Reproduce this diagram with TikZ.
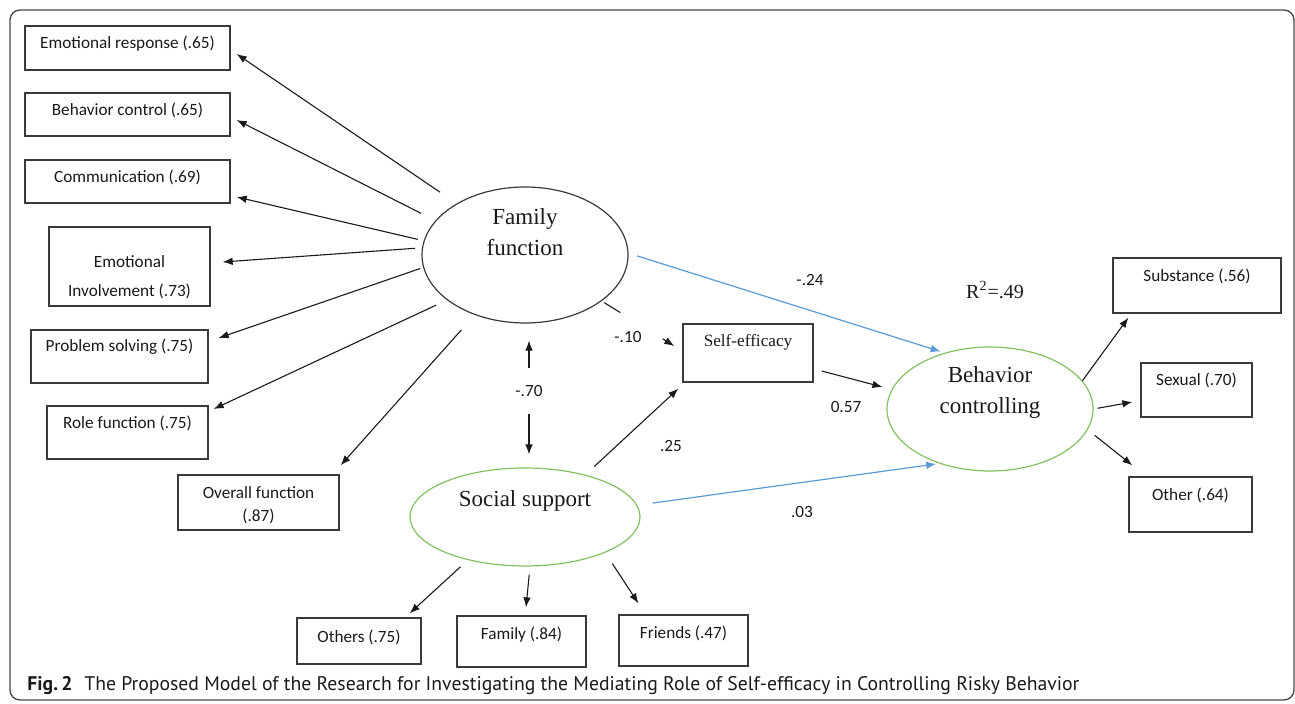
\documentclass[tikz,border=0pt]{standalone}
\usepackage{fontspec}
\usetikzlibrary{arrows.meta,calc,shapes.geometric}
\newfontfamily\calfont{Carlito}
\newfontfamily\tmsfont{Liberation Serif}
\newfontfamily\capfont{PT Sans}
\definecolor{boxc}{HTML}{3A3A3A}
\definecolor{txt}{HTML}{1A1A1A}
\definecolor{grn}{HTML}{84C062}
\definecolor{blu}{HTML}{5B9BD5}
\definecolor{frm}{HTML}{4A4A4A}
\begin{document}
\begin{tikzpicture}[x=0.5pt,y=-0.5pt,
 box/.style={draw=boxc, line width=0.65pt, rectangle, inner sep=0pt},
 lab/.style={font=\calfont\fontsize{8.6}{10.3}\selectfont, text=txt, inner sep=0pt},
 slab/.style={font=\tmsfont\fontsize{8.6}{10.3}\selectfont, text=txt, inner sep=0pt},
 elab/.style={font=\tmsfont\fontsize{11.5}{15.5}\selectfont, text=txt, inner sep=0pt, align=center},
 ell/.style={ellipse, inner sep=0pt, line width=0.6pt},
 arr/.style={draw=txt, line width=0.55pt, -{Latex[length=5pt,width=3.8pt]}},
 darr/.style={draw=txt, line width=0.55pt, {Latex[length=5pt,width=3.8pt]}-{Latex[length=5pt,width=3.8pt]}},
 plain/.style={draw=txt, line width=0.55pt},
 barr/.style={draw=blu, line width=0.6pt, -{Latex[length=5pt,width=3.8pt]}},
 coef/.style={font=\calfont\fontsize{8.6}{10}\selectfont, text=txt, inner sep=0pt},
]
\useasboundingbox (0,0) rectangle (1295,704);
\draw[frm, line width=0.7pt, rounded corners=5pt] (10,10) rectangle (1294,700);

% indicator boxes of family function
\node[box, minimum width=102.5pt, minimum height=22pt, label={[lab,yshift=2pt]center:Emotional response (.65)}] (er) at (127.5,48) {};
\node[box, minimum width=102.5pt, minimum height=21.5pt, label={[lab,yshift=2.25pt]center:Behavior control (.65)}] (bctl) at (127.5,114.5) {};
\node[box, minimum width=102.5pt, minimum height=21.5pt, label={[lab,yshift=2.25pt]center:Communication (.69)}] (com) at (127.5,181.5) {};
\node[box, minimum width=80.5pt, minimum height=39.5pt, label={[lab,align=center,font=\calfont\fontsize{8.6}{14.5}\selectfont,yshift=-5.5pt]center:Emotional\\Involvement (.73)}] (ei) at (129.5,266.5) {};
\node[box, minimum width=88.5pt, minimum height=26.5pt, label={[lab,yshift=4.75pt]center:Problem solving (.75)}] (ps) at (119.5,356.5) {};
\node[box, minimum width=80.5pt, minimum height=26.5pt, label={[lab,yshift=4.75pt]center:Role function (.75)}] (rf) at (127.5,432.5) {};
\node[box, minimum width=80.5pt, minimum height=27.5pt, label={[lab,align=center,font=\calfont\fontsize{8.6}{11.5}\selectfont,yshift=-1.5pt]center:Overall function\\(.87)}] (of) at (258.5,502.5) {};

% mediator and outcome indicators
\node[box, minimum width=65pt, minimum height=29pt, label={[slab,yshift=5.5pt]center:Self-efficacy}] (se) at (748,353) {};
\node[box, minimum width=84pt, minimum height=27.5pt, label={[lab,yshift=4.75pt]center:Substance (.56)}] (sub) at (1197,285.5) {};
\node[box, minimum width=55.5pt, minimum height=27pt, label={[lab,yshift=5pt]center:Sexual (.70)}] (sex) at (1196.5,390) {};
\node[box, minimum width=61.5pt, minimum height=27.5pt, label={[lab,yshift=4.75pt]center:Other (.64)}] (oth) at (1190.5,504.5) {};

% social support indicators
\node[box, minimum width=62pt, minimum height=23pt, label={[lab,yshift=2pt]center:Others (.75)}] (others) at (359,641) {};
\node[box, minimum width=64.5pt, minimum height=25.5pt, label={[lab,yshift=3.25pt]center:Family (.84)}] (fam) at (521.5,641.5) {};
\node[box, minimum width=64.5pt, minimum height=25.5pt, label={[lab,yshift=3.75pt]center:Friends (.47)}] (fr) at (683.5,640.5) {};

% latent variables
\node[ell, draw=boxc, minimum width=103pt, minimum height=68pt, label={[elab,yshift=11.25pt]center:Family\\function}] (ff) at (525,255) {};
\node[ell, draw=grn, minimum width=115pt, minimum height=49pt, label={[elab,yshift=8pt]center:Social support}] (ss) at (525,517) {};
\node[ell, draw=grn, minimum width=103pt, minimum height=62pt, label={[elab,yshift=8.25pt]center:Behavior\\controlling}] (bhc) at (990,409) {};

% family function loadings
\draw[arr, shorten <=10pt] (ff.143) -- ([xshift=3pt,yshift=-3pt]er.east);
\draw[arr, shorten <=8pt] (ff.159) -- ([xshift=3pt,yshift=-2.75pt]bctl.east);
\draw[arr, shorten <=3pt] (ff.172) -- ([xshift=3pt,yshift=-7.75pt]com.east);
\draw[arr, shorten <=3.5pt] (ff.176) -- ([xshift=6pt,yshift=2.25pt]ei.east);
\draw[arr, shorten <=1.5pt] (ff.187) -- ([xshift=5pt,yshift=9.25pt]ps.east);
\draw[arr, shorten <=6pt] (ff.210) -- ([xshift=2.5pt,yshift=11.75pt]rf.east);
\draw[arr, shorten <=10pt] (ff.230) -- ([xshift=0.5pt,yshift=4.5pt]of.north east);

% structural paths
\draw[barr, shorten <=4.5pt, shorten >=2pt] (ff.1) -- (bhc.129);
\coordinate (setip) at ([xshift=-4pt,yshift=3.5pt]se.west);
\draw[plain, shorten <=1.5pt] (ff.329) -- ($(ff.329)!0.257!(setip)$);
\draw[arr] ($(ff.329)!0.84!(setip)$) -- (setip);
\draw[darr, shorten <=8.5pt, shorten >=6.5pt] ([xshift=2pt]ff.south) -- ([xshift=2pt]ss.north)
  node[coef, pos=0.469, fill=white, inner xsep=1pt, inner ysep=8.5pt] (c70) {-.70};
\draw[arr, shorten <=6pt] (ss.35) -- ([xshift=-2pt,yshift=-3pt]se.south west);
\draw[arr] ([xshift=4pt,yshift=-9pt]se.east) -- ([xshift=-2pt,yshift=11pt]bhc.west);
\draw[barr, shorten <=7.75pt, shorten >=1.5pt] (ss.6) -- (bhc.227);

% behavior controlling loadings
\draw[arr] (bhc.17) -- ([xshift=8pt,yshift=-2pt]sub.south west);
\draw[arr, shorten <=2pt] (bhc.east) -- ([xshift=-4pt,yshift=-6pt]sex.west);
\draw[arr, shorten <=4.5pt] (bhc.348) -- ([xshift=2pt,yshift=5.5pt]oth.north west);

% social support loadings
\draw[arr, shorten <=5pt] (ss.217) -- ([xshift=-6pt,yshift=2pt]others.north east);
\draw[arr, shorten <=4pt] ([xshift=2.5pt]ss.south) -- ([xshift=2.25pt,yshift=4pt]fam.north);
\draw[arr, shorten <=6.5pt] (ss.336) -- ([xshift=10pt,yshift=5.5pt]fr.north west);

% coefficients
\node[coef] (c24) at (810,280) {-.24};
\node[coef] (c10) at (628,337) {-.10};
\node[coef] (c25) at (671,446) {.25};
\node[coef] (c57) at (846,407) {0.57};
\node[coef] (c03) at (802,512) {.03};
\node[font=\tmsfont\fontsize{10}{12}\selectfont, text=txt, inner sep=0pt] (r2) at (995,290) {R\textsuperscript{2}=.49};

% caption
\node[anchor=west, inner sep=0pt, font=\capfont\fontsize{9.85}{12}\selectfont, text=txt] (cap) at (27,686)
  {\textbf{Fig.\,2}\hspace{0.6em}The Proposed Model of the Research for Investigating the Mediating Role of Self-efficacy in Controlling Risky Behavior};
\end{tikzpicture}
\end{document}
